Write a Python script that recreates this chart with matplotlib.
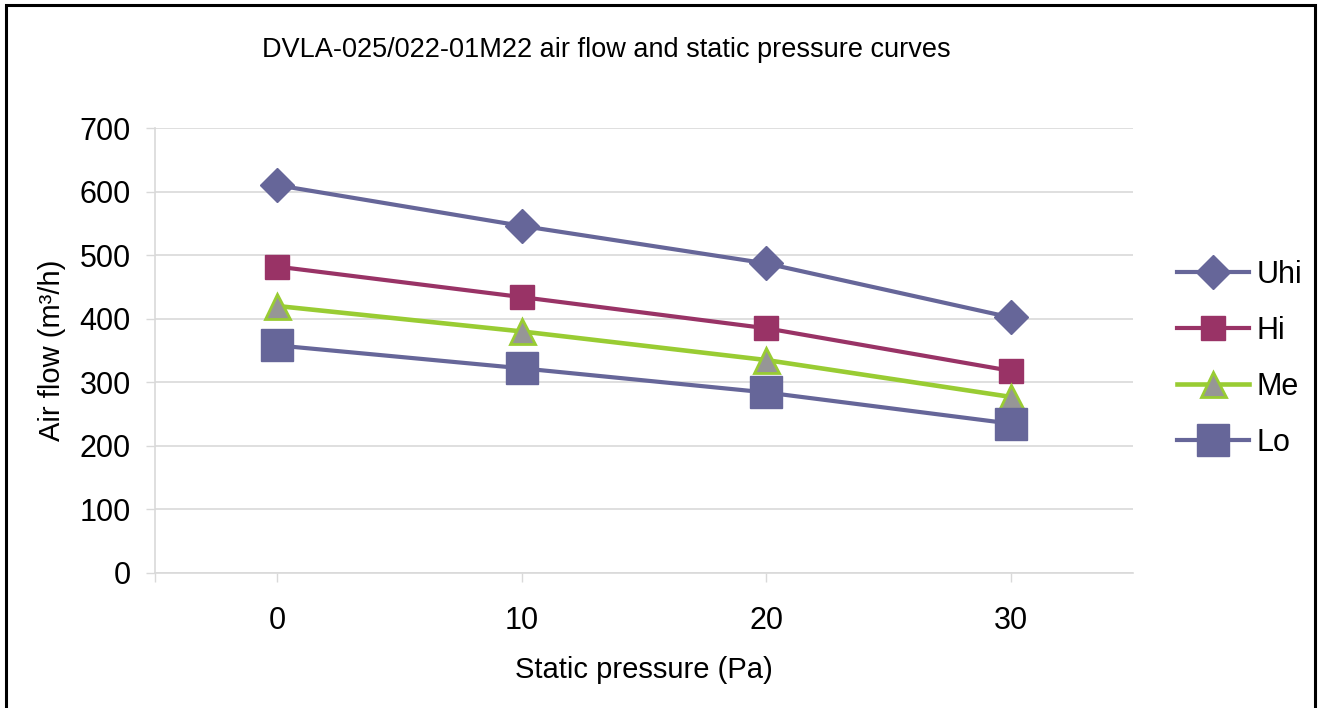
import matplotlib
matplotlib.use("Agg")
import matplotlib.pyplot as plt
from matplotlib.patches import Rectangle

plt.rcParams['font.family'] = ['Liberation Sans', 'DejaVu Sans']

pressure = [0, 10, 20, 30]
uhi = [610, 546, 487, 402]
hi = [482, 434, 385, 318]
me = [420, 380, 335, 277]
lo = [358, 322, 284, 235]

x_ticks = [-5, 0, 10, 20, 30]
x_tick_labels = ['', '0', '10', '20', '30']
y_ticks = [0, 100, 200, 300, 400, 500, 600, 700]

title = "DVLA-025/022-01M22 air flow and static pressure curves"
xlabel = "Static pressure (Pa)"
ylabel = "Air flow (m³/h)"

W, H = 1323, 708
fig = plt.figure(figsize=(W / 100, H / 100), dpi=100)
ax = fig.add_axes([155 / W, 1 - 573 / H, 978 / W, 445 / H])

c_uhi = '#666699'
c_hi = '#993366'
c_me = '#99CC33'
c_lo = '#666699'

ax.plot(pressure, uhi, color=c_uhi, lw=3.0, marker='D', ms=17, mfc=c_uhi, mec=c_uhi, label='Uhi', zorder=3)
ax.plot(pressure, hi, color=c_hi, lw=3.0, marker='s', ms=17.5, mfc=c_hi, mec=c_hi, label='Hi', zorder=3)
ax.plot(pressure, me, color=c_me, lw=3.3, marker='^', ms=18, mfc='#969696', mec=c_me, mew=2, label='Me', zorder=3)
ax.plot(pressure, lo, color=c_lo, lw=3.0, marker='s', ms=22.5, mfc=c_lo, mec=c_lo, label='Lo', zorder=3)

ax.set_xlim(-5, 35)
ax.set_ylim(0, 700)
ax.set_xticks(x_ticks)
ax.set_xticklabels(x_tick_labels)
ax.set_yticks(y_ticks)

grid_c = '#D9D9D9'
ax.yaxis.grid(True, color=grid_c, lw=1.2)
ax.set_axisbelow(True)
for s in ['top', 'right']:
    ax.spines[s].set_visible(False)
for s in ['left', 'bottom']:
    ax.spines[s].set_color(grid_c)
    ax.spines[s].set_linewidth(1.2)

ax.tick_params(axis='y', length=6.5, width=1, color=grid_c, pad=11, labelsize=22)
ax.tick_params(axis='x', length=6.5, width=1, color=grid_c, pad=17, labelsize=22)

ax.set_xlabel(xlabel, fontsize=21, labelpad=15)
ax.set_ylabel(ylabel, fontsize=21, labelpad=10)

fig.text(606 / W, 1 - 50 / H, title, fontsize=19.5, ha='center', va='center')

leg = ax.legend(loc='upper left', bbox_to_anchor=(1177 / W, 1 - 260 / H),
                bbox_transform=fig.transFigure, frameon=False, fontsize=22,
                handlelength=2.35, handletextpad=0.25, labelspacing=0.85,
                borderpad=0, borderaxespad=0)

fig.patches.append(Rectangle((5.5 / W, -0.05), (1315 - 5.5) / W, 1.05 - 5.5 / H,
                             transform=fig.transFigure, fill=False,
                             edgecolor='black', lw=2.2, zorder=10))

fig.savefig('out.png', dpi=100)
